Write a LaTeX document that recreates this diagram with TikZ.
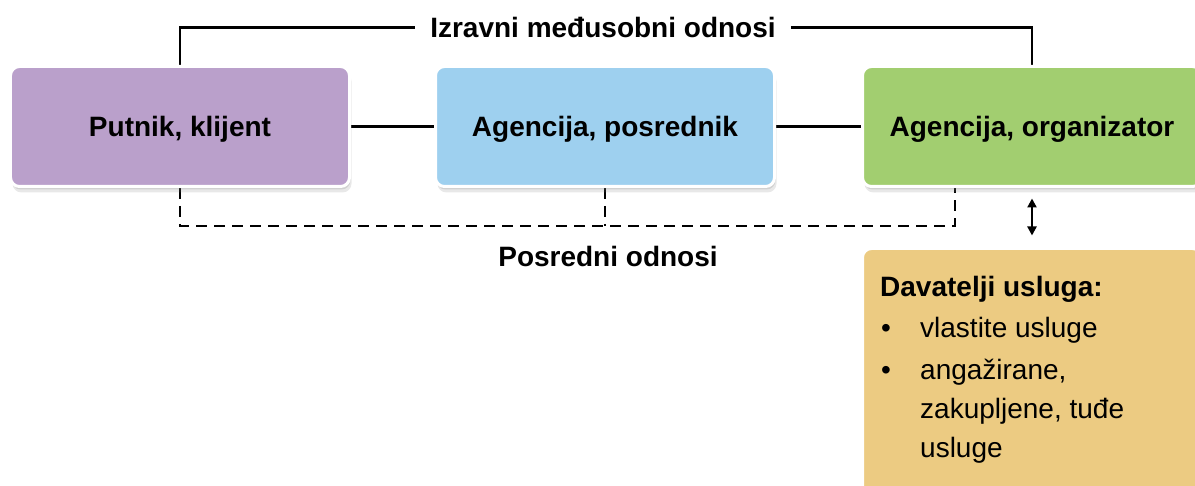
\documentclass[tikz,border=0pt]{standalone}
\usepackage{fontspec}
\setmainfont{Liberation Sans}
\usetikzlibrary{shadows,backgrounds,arrows.meta}
\definecolor{cPurple}{RGB}{186,160,203}
\definecolor{cBlue}{RGB}{158,208,239}
\definecolor{cGreen}{RGB}{162,206,112}
\definecolor{cYellow}{RGB}{236,203,130}
\begin{document}
\begin{tikzpicture}[x=1bp,y=-1bp,
  box/.style={draw=white, line width=3bp, rounded corners=9bp,
    minimum width=339bp, minimum height=120bp, inner sep=0pt,
    text height=20bp, text depth=0pt,
    font=\fontsize{28bp}{34bp}\selectfont\bfseries,
    drop shadow={opacity=0.18, shadow xshift=2bp, shadow yshift=-6bp},
    drop shadow={opacity=0.22, shadow xshift=1bp, shadow yshift=-3bp}},
  conn/.style={line width=2.8bp},
  dashconn/.style={line width=2.5bp, dash pattern=on 11bp off 7bp},
  lbl/.style={inner sep=0pt, font=\fontsize{28bp}{34bp}\selectfont\bfseries},
  txt/.style={inner sep=0pt, font=\fontsize{28bp}{34bp}\selectfont}
]
\useasboundingbox (0,0) rectangle (1195,486);
\clip (0,0) rectangle (1195,486);

\node[box, fill=cPurple] (box1) at (180,126.5) {Putnik, klijent};
\node[box, fill=cBlue] (box2) at (605,126.5) {Agencija, posrednik};
\node[box, fill=cGreen] (box3) at (1032,126.5) {Agencija, organizator};
\node[box, fill=cYellow, minimum height=260bp] (box4) at (1032,378.5) {};

\node[lbl, inner xsep=15bp, text height=21bp, text depth=0pt] (direct) at (603,27.5) {Izravni međusobni odnosi};
\node[lbl, anchor=base] (indirect) at (608,267) {Posredni odnosi};
\coordinate (dr) at (955,226);

\begin{pgfonlayer}{background}
\draw[conn] (box1.north) |- (direct.west);
\draw[conn] (direct.east) -| (box3.north);
\draw[conn] (box1.east) -- (box2.west);
\draw[conn] (box2.east) -- (box3.west);
\draw[dashconn] (box1.south) |- (dr) -- (box3.south -| dr);
\draw[dashconn] (box2.south) -- (box2.south |- dr);
\end{pgfonlayer}

\draw[line width=2.2bp, {Triangle[length=9bp,width=9bp]}-{Triangle[length=9bp,width=9bp]}]
  ([yshift=-10.5bp]box3.south) -- ([yshift=11.5bp]box4.north);

\node[lbl, anchor=base west] (t0) at (880,297) {Davatelji usluga:};
\node[txt, anchor=base west] (t1) at (881,338) {\makebox[39bp][l]{\textbullet}vlastite usluge};
\node[txt, anchor=base west] (t2) at (881,380) {\makebox[39bp][l]{\textbullet}angažirane,};
\node[txt, anchor=base west] (t3) at (920,418) {zakupljene, tuđe};
\node[txt, anchor=base west] (t4) at (920,457) {usluge};
\end{tikzpicture}
\end{document}
